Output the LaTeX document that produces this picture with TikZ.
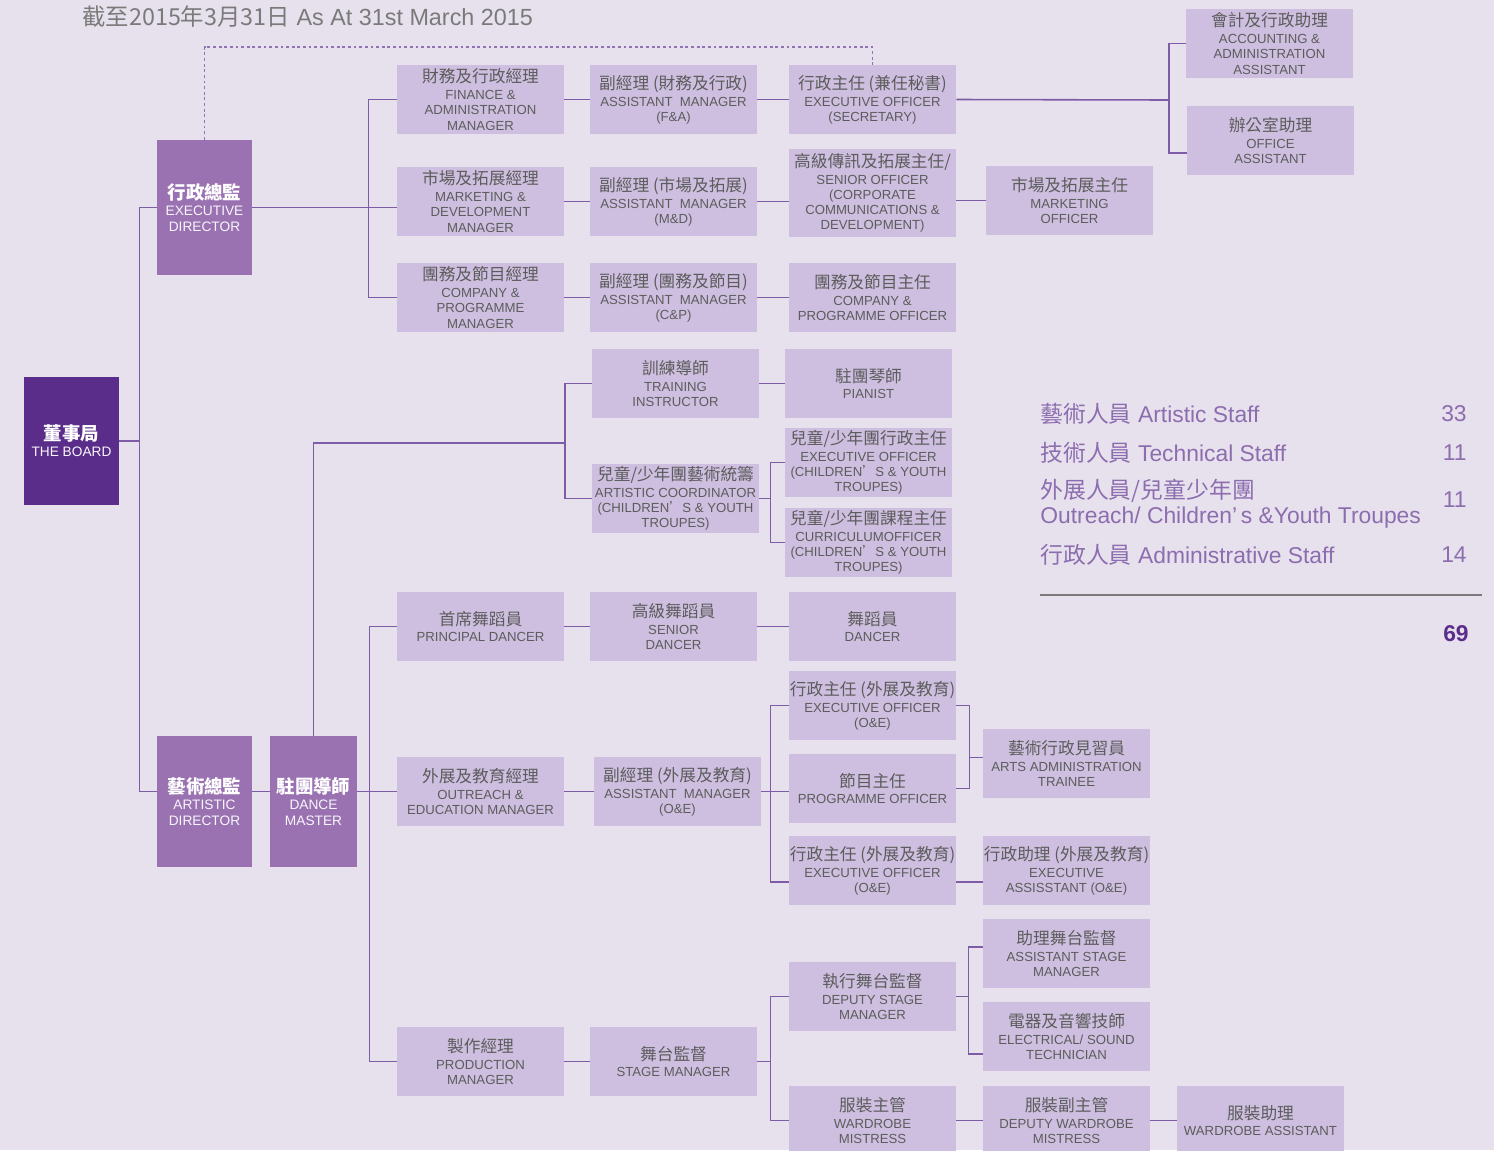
\documentclass[tikz,border=0pt]{standalone}
\usepackage{fontspec}
\setmainfont{Liberation Sans}
\newfontfamily\cjkfont{Noto Sans CJK TC}
\newcommand{\zh}[1]{{\cjkfont\fontsize{9.5}{10}\selectfont #1}}
\newcommand{\zhb}[1]{{\cjkfont\bfseries\color{white}\fontsize{10.5}{11}\selectfont #1}}
\definecolor{pagebg}{HTML}{E7E1EE}
\definecolor{boxfill}{HTML}{CEBFE0}
\definecolor{midpurple}{HTML}{9A72B2}
\definecolor{darkpurple}{HTML}{5B2D8B}
\definecolor{linepurple}{HTML}{7D5BA6}
\definecolor{boxtext}{HTML}{5C5C5C}
\definecolor{titlegray}{HTML}{7A7A7A}
\definecolor{statpurple}{HTML}{8C6DAE}
\begin{document}
\begin{tikzpicture}
    \tikzset{
      post/.style={fill=boxfill, rectangle, inner sep=0pt, minimum width=3.34cm, minimum height=1.38cm, align=center, text=boxtext, font=\fontsize{7.5}{8.6}\selectfont},
      head/.style={fill=midpurple, rectangle, inner sep=0pt, minimum width=1.9cm, align=center, text=white!85!boxfill, font=\fontsize{7.8}{9}\selectfont},
      conn/.style={draw=linepurple, line width=0.9pt},
      dotline/.style={draw=linepurple!85, line width=0.8pt, dash pattern=on 1.6pt off 1.6pt},
      stat/.style={anchor=west, text=statpurple, font=\fontsize{13}{14.2}\selectfont, inner sep=0pt, align=left},
      count/.style={anchor=east, text=statpurple, font=\fontsize{13}{14.2}\selectfont, inner sep=0pt}
    }
    \fill[pagebg] (0,0) rectangle (29.88,-23);
    \useasboundingbox (0,0) rectangle (29.88,-23);

    \node[anchor=west, text=titlegray, font=\fontsize{13.3}{15}\selectfont, inner sep=0pt] (heading) at (1.64, -0.34) {{\cjkfont 截至2015年3月31日} As At 31st March 2015};

    % heads
    \node[head, fill=darkpurple, minimum height=2.56cm] (board) at (1.43, -8.82) {\zhb{董事局}\\THE BOARD};
    \node[head, minimum height=2.7cm] (execdir) at (4.09, -4.15) {\zhb{行政總監}\\EXECUTIVE\\DIRECTOR};
    \node[head, minimum height=2.62cm] (artdir) at (4.09, -16.03) {\zhb{藝術總監}\\ARTISTIC\\DIRECTOR};
    \node[head, minimum width=1.74cm, minimum height=2.62cm] (dancemaster) at (6.27, -16.03) {\zhb{駐團導師}\\DANCE\\MASTER};

    % first column
    \node[post] (finman) at (9.61, -1.99) {\zh{財務及行政經理}\\[1pt]FINANCE \&\\ADMINISTRATION\\MANAGER};
    \node[post] (mktman) at (9.61, -4.03) {\zh{市場及拓展經理}\\[1pt]MARKETING \&\\DEVELOPMENT\\MANAGER};
    \node[post] (cpman) at (9.61, -5.95) {\zh{團務及節目經理}\\[1pt]COMPANY \&\\PROGRAMME\\MANAGER};
    \node[post] (principal) at (9.61, -12.53) {\zh{首席舞蹈員}\\[1pt]PRINCIPAL DANCER};
    \node[post] (outreachman) at (9.61, -15.83) {\zh{外展及教育經理}\\[1pt]OUTREACH \&\\EDUCATION MANAGER};
    \node[post] (prodman) at (9.61, -21.23) {\zh{製作經理}\\[1pt]PRODUCTION\\MANAGER};

    % second column
    \node[post] (amfa) at (13.47, -1.99) {\zh{副經理 (財務及行政)}\\[1pt]ASSISTANT\ \ MANAGER\\(F\&A)};
    \node[post] (ammd) at (13.47, -4.03) {\zh{副經理 (市場及拓展)}\\[1pt]ASSISTANT\ \ MANAGER\\(M\&D)};
    \node[post] (amcp) at (13.47, -5.95) {\zh{副經理 (團務及節目)}\\[1pt]ASSISTANT\ \ MANAGER\\(C\&P)};
    \node[post] (training) at (13.51, -7.67) {\zh{訓練導師}\\[1pt]TRAINING\\INSTRUCTOR};
    \node[post] (artcoord) at (13.51, -9.97) {\zh{兒童/少年團藝術統籌}\\[1pt]ARTISTIC COORDINATOR\\(CHILDREN{\cjkfont ’}S \& YOUTH\\TROUPES)};
    \node[post] (senior) at (13.47, -12.53) {\zh{高級舞蹈員}\\[1pt]SENIOR\\DANCER};
    \node[post] (amoe) at (13.55, -15.83) {\zh{副經理 (外展及教育)}\\[1pt]ASSISTANT\ \ MANAGER\\(O\&E)};
    \node[post] (stagemgr) at (13.47, -21.23) {\zh{舞台監督}\\[1pt]STAGE MANAGER};

    % third column
    \node[post] (eosec) at (17.45, -1.99) {\zh{行政主任 (兼任秘書)}\\[1pt]EXECUTIVE OFFICER\\(SECRETARY)};
    \node[post, minimum height=1.76cm] (seniorof) at (17.45, -3.86) {\zh{高級傳訊及拓展主任/}\\[1pt]SENIOR OFFICER\\(CORPORATE\\COMMUNICATIONS \&\\DEVELOPMENT)};
    \node[post] (cpofficer) at (17.45, -5.95) {\zh{團務及節目主任}\\[1pt]COMPANY \&\\PROGRAMME OFFICER};
    \node[post] (pianist) at (17.37, -7.67) {\zh{駐團琴師}\\[1pt]PIANIST};
    \node[post] (eochild) at (17.37, -9.25) {\zh{兒童/少年團行政主任}\\[1pt]EXECUTIVE OFFICER\\(CHILDREN{\cjkfont ’}S \& YOUTH\\TROUPES)};
    \node[post] (curric) at (17.37, -10.85) {\zh{兒童/少年團課程主任}\\[1pt]CURRICULUMOFFICER\\(CHILDREN{\cjkfont ’}S \& YOUTH\\TROUPES)};
    \node[post] (dancer) at (17.45, -12.53) {\zh{舞蹈員}\\[1pt]DANCER};
    \node[post] (eooe) at (17.45, -14.11) {\zh{行政主任 (外展及教育)}\\[1pt]EXECUTIVE OFFICER\\(O\&E)};
    \node[post] (progoff) at (17.45, -15.77) {\zh{節目主任}\\[1pt]PROGRAMME OFFICER};
    \node[post] (eooe2) at (17.45, -17.41) {\zh{行政主任 (外展及教育)}\\[1pt]EXECUTIVE OFFICER\\(O\&E)};
    \node[post] (dsm) at (17.45, -19.93) {\zh{執行舞台監督}\\[1pt]DEPUTY STAGE\\MANAGER};
    \node[post] (wardrobe) at (17.45, -22.41) {\zh{服裝主管}\\[1pt]WARDROBE\\MISTRESS};

    % fourth column and beyond
    \node[post] (mktofficer) at (21.39, -4.01) {\zh{市場及拓展主任}\\[1pt]MARKETING\\OFFICER};
    \node[post] (trainee) at (21.33, -15.27) {\zh{藝術行政見習員}\\[1pt]ARTS ADMINISTRATION\\TRAINEE};
    \node[post] (execasst) at (21.33, -17.41) {\zh{行政助理 (外展及教育)}\\[1pt]EXECUTIVE\\ASSISSTANT (O\&E)};
    \node[post] (asm) at (21.33, -19.07) {\zh{助理舞台監督}\\[1pt]ASSISTANT STAGE\\MANAGER};
    \node[post] (elec) at (21.33, -20.73) {\zh{電器及音響技師}\\[1pt]ELECTRICAL/ SOUND\\TECHNICIAN};
    \node[post] (dwm) at (21.33, -22.41) {\zh{服裝副主管}\\[1pt]DEPUTY WARDROBE\\MISTRESS};
    \node[post] (accasst) at (25.39, -0.87) {\zh{會計及行政助理}\\[1pt]ACCOUNTING \&\\ADMINISTRATION\\ASSISTANT};
    \node[post] (officeasst) at (25.41, -2.81) {\zh{辦公室助理}\\[1pt]OFFICE\\ASSISTANT};
    \node[post] (wardasst) at (25.21, -22.41) {\zh{服裝助理}\\[1pt]WARDROBE ASSISTANT};

    % staff numbers
    \node[stat] (artstaff) at (20.8, -8.28) {{\cjkfont 藝術人員} Artistic Staff};
    \node[stat] (techstaff) at (20.8, -9.06) {{\cjkfont 技術人員} Technical Staff};
    \node[stat] (outstaff) at (20.8, -10.07) {{\cjkfont 外展人員/兒童少年團}\\Outreach/ Children’\,s \&Youth Troupes};
    \node[stat] (adminstaff) at (20.8, -11.1) {{\cjkfont 行政人員} Administrative Staff};
    \node[count] (artcount) at (29.34, -8.28) {33};
    \node[count] (techcount) at (29.34, -9.06) {11};
    \node[count] (outcount) at (29.34, -10.0) {11};
    \node[count] (admincount) at (29.34, -11.1) {14};
    \draw[draw=titlegray, line width=0.9pt] (20.8, -11.9) -- (29.64, -11.9);
    \node[count, text=darkpurple, font=\fontsize{13}{14}\selectfont\bfseries] (total) at (29.38, -12.68) {69};

    \coordinate (trunk) at (2.8, -8.82);
    \coordinate (adminbus) at (23.38, -2);
    \coordinate (troupebus) at (11.31, -8.86);
    \coordinate (dotcorner) at (17.45, -0.94);

    \draw[dotline] (execdir.north) |- (dotcorner) -- (eosec.north);

    \draw[conn] (board.east) -- (trunk);
    \draw[conn] (execdir.west) -- ++(-0.34,0) |- (outreachman.west -| artdir.west);
    \draw[conn] (outreachman.west -| artdir.east) -- (outreachman.west -| dancemaster.west);
    \draw[conn] (execdir.east) -- (execdir.east -| mktman.west);
    \draw[conn] (finman.west) -- ++(-0.56,0) |- (cpman.west);
    \draw[conn] (finman) -- (amfa);
    \draw[conn] (amfa) -- (eosec);
    \draw[conn] (eosec.east) -- (adminbus);
    \draw[conn] (accasst.west) -| (adminbus) |- ([yshift=-0.25cm]officeasst.west);
    \draw[conn] (mktman) -- (ammd);
    \draw[conn] (ammd.east) -- (ammd.east -| seniorof.west);
    \draw[conn] (seniorof.east |- mktofficer.west) -- (mktofficer.west);
    \draw[conn] (cpman) -- (amcp);
    \draw[conn] (amcp) -- (cpofficer);

    \draw[conn] (dancemaster.north) |- (troupebus);
    \draw[conn] (training.west) -- ++(-0.53,0) |- (artcoord.west);
    \draw[conn] (training) -- (pianist);
    \draw[conn] (artcoord.east) -- ++(0.24,0);
    \draw[conn] (eochild.west) -- ++(-0.28,0) |- (curric.west);

    \draw[conn] (outreachman.west -| dancemaster.east) -- (outreachman.west);
    \draw[conn] (principal.west) -- ++(-0.54,0) |- (prodman.west);
    \draw[conn] (principal) -- (senior);
    \draw[conn] (senior) -- (dancer);
    \draw[conn] (outreachman) -- (amoe);
    \draw[conn] (amoe.east) -- (amoe.east -| progoff.west);
    \draw[conn] (eooe.west) -- ++(-0.36,0) |- ([yshift=-0.23cm]eooe2.west);
    \draw[conn] (eooe.east) -- ++(0.26,0) |- (progoff.east);
    \draw[conn] ([yshift=0.12cm]trainee.west) -- ++(-0.28,0);
    \draw[conn] ([yshift=-0.23cm]eooe2.east) -- ([yshift=-0.23cm]execasst.west);

    \draw[conn] (prodman) -- (stagemgr);
    \draw[conn] (stagemgr.east) -- ++(0.28,0);
    \draw[conn] (dsm.west) -- ++(-0.36,0) |- (wardrobe.west);
    \draw[conn] (dsm.east) -- ++(0.26,0);
    \draw[conn] ([yshift=0.13cm]asm.west) -- ++(-0.28,0) |- ([yshift=-0.35cm]elec.west);
    \draw[conn] (wardrobe) -- (dwm);
    \draw[conn] (dwm) -- (wardasst);
  \end{tikzpicture}
\end{document}
